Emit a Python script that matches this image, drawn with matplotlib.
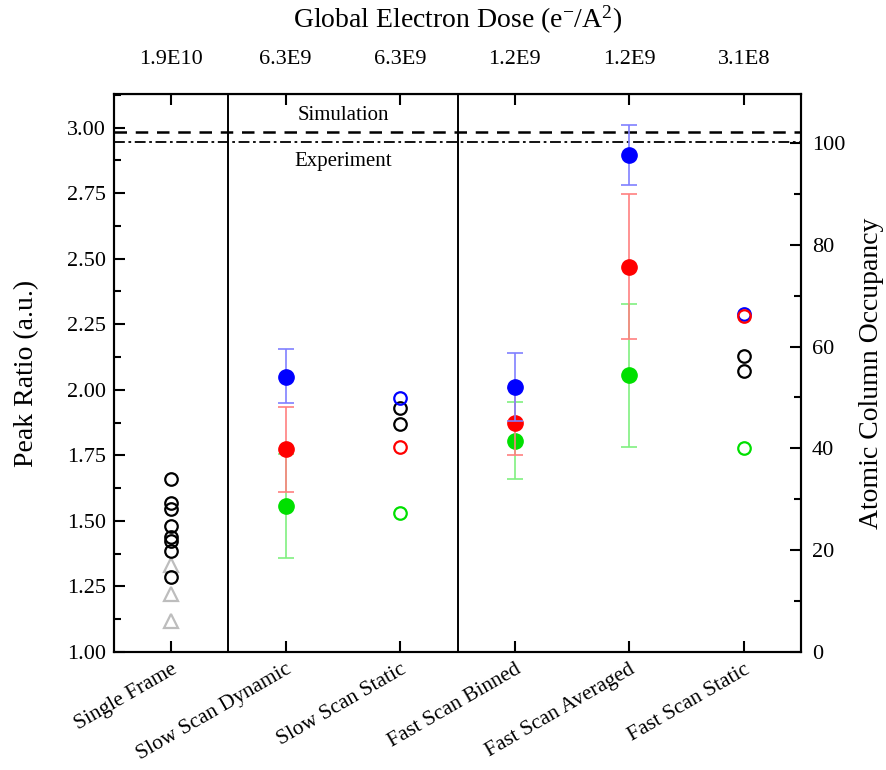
import matplotlib
matplotlib.use("Agg")
import matplotlib.pyplot as plt
from matplotlib.ticker import MultipleLocator

plt.rcParams['font.family'] = ['Liberation Serif', 'DejaVu Serif']
plt.rcParams['mathtext.fontset'] = 'custom'
plt.rcParams['mathtext.rm'] = 'Liberation Serif'
plt.rcParams['mathtext.it'] = 'Liberation Serif:italic'

categories = ["Single Frame", "Slow Scan Dynamic", "Slow Scan Static",
              "Fast Scan Binned", "Fast Scan Averaged", "Fast Scan Static"]
doses = ["1.9E10", "6.3E9", "6.3E9", "1.2E9", "1.2E9", "3.1E8"]

# Single frame open black circles and gray triangles
single_black = [1.658, 1.569, 1.544, 1.480, 1.437, 1.424, 1.386, 1.287]
single_gray = [1.332, 1.221, 1.120]

# Filled points with error bars
blue_idx = [1, 3, 4]
blue_val = [2.05, 2.01, 2.895]
blue_lo = [1.95, 1.88, 2.78]
blue_hi = [2.155, 2.14, 3.01]

red_idx = [1, 3, 4]
red_val = [1.775, 1.875, 2.47]
red_lo = [1.61, 1.75, 2.193]
red_hi = [1.934, 2.005, 2.748]

green_idx = [1, 3, 4]
green_val = [1.555, 1.805, 2.055]
green_lo = [1.358, 1.66, 1.782]
green_hi = [1.757, 1.955, 2.329]

# Static (open) points
static_idx_blue = [2, 5]
static_blue = [1.97, 2.29]
static_idx_red = [2, 5]
static_red = [1.78, 2.282]
static_idx_green = [2, 5]
static_green = [1.53, 1.778]
static_idx_black = [2, 2, 5, 5]
static_black = [1.93, 1.87, 2.13, 2.073]

simulation_level = 2.983
experiment_level = 2.945

fig = plt.figure(figsize=(8.87, 7.70), dpi=100)
ax = fig.add_axes([114/887, 118/770, (801-114)/887, (652-94)/770])

ax.set_xlim(-0.5, 5.5)
ax.set_ylim(1.0, 3.128)

# reference lines
ax.axhline(simulation_level, color='black', lw=1.8, ls=(0, (5, 3.5)))
ax.axhline(experiment_level, color='black', lw=1.3, ls=(0, (6, 2, 1.5, 2)))
ax.text(1.5, 3.01, "Simulation", ha='center', va='bottom', fontsize=15)
ax.text(1.5, 2.905, "Experiment", ha='center', va='top', fontsize=15)

# dividers
ax.axvline(0.5, color='black', lw=1.4)
ax.axvline(2.5, color='black', lw=1.4)

# single frame
ax.plot([0]*len(single_gray), single_gray, ls='none', marker='^', ms=10,
        mfc='none', mec='#bdbdbd', mew=1.6)
ax.plot([0]*len(single_black), single_black, ls='none', marker='o', ms=9,
        mfc='none', mec='black', mew=1.6)

def errpts(idx, val, lo, hi, col, ecol):
    yerr = [[v - l for v, l in zip(val, lo)], [h - v for v, h in zip(val, hi)]]
    ax.errorbar(idx, val, yerr=yerr, fmt='none', ecolor=ecol, elinewidth=1.2,
                capsize=6, capthick=1.2)
    ax.plot(idx, val, ls='none', marker='o', ms=11, mfc=col, mec=col)

errpts(green_idx, green_val, green_lo, green_hi, '#00e000', '#80f080')
errpts(red_idx, red_val, red_lo, red_hi, '#ff0000', '#ff8080')
errpts(blue_idx, blue_val, blue_lo, blue_hi, '#0000ff', '#8080ff')

for idx, vals, col in [(static_idx_black, static_black, 'black'),
                       (static_idx_green, static_green, '#00e000'),
                       (static_idx_blue, static_blue, '#0000ff'),
                       (static_idx_red, static_red, '#ff0000')]:
    ax.plot(idx, vals, ls='none', marker='o', ms=9, mfc='none', mec=col, mew=1.6)

# axes styling
for s in ax.spines.values():
    s.set_linewidth(1.5)
ax.set_xticks(range(len(categories)))
ax.set_xticklabels(categories, rotation=30, ha='right', rotation_mode='anchor', fontsize=15.5)
ax.set_yticks([1.0 + 0.25*i for i in range(9)])
ax.set_yticklabels([f"{1.0 + 0.25*i:.2f}" for i in range(9)], fontsize=16)
ax.yaxis.set_minor_locator(MultipleLocator(0.125))
ax.tick_params(axis='both', which='major', direction='in', length=8, width=1.5)
ax.tick_params(axis='y', which='minor', direction='in', length=5, width=1.5)
ax.tick_params(axis='x', which='major', pad=6)
ax.tick_params(axis='y', which='major', pad=6)
ax.set_ylabel("Peak Ratio (a.u.)", fontsize=20, labelpad=20)

top = ax.secondary_xaxis('top')
top.set_xticks(range(len(doses)))
top.set_xticklabels(doses, fontsize=16)
top.tick_params(direction='in', length=8, width=1.5, pad=18)
top.set_xlabel("Global Electron Dose (e$^{-}$/A$^{2}$)", fontsize=20, labelpad=16)

ax2 = ax.twinx()
ax2.set_ylim(0, 109.6)
ax2.set_yticks([0, 20, 40, 60, 80, 100])
ax2.set_yticklabels(["0", "20", "40", "60", "80", "100"], fontsize=16)
ax2.yaxis.set_minor_locator(MultipleLocator(10))
ax2.tick_params(axis='y', which='major', direction='in', length=8, width=1.5, pad=8)
ax2.tick_params(axis='y', which='minor', direction='in', length=5, width=1.5)
ax2.set_ylabel("Atomic Column Occupancy", fontsize=20, labelpad=10)
for s in ax2.spines.values():
    s.set_linewidth(1.5)

fig.savefig("out.png", dpi=100)
